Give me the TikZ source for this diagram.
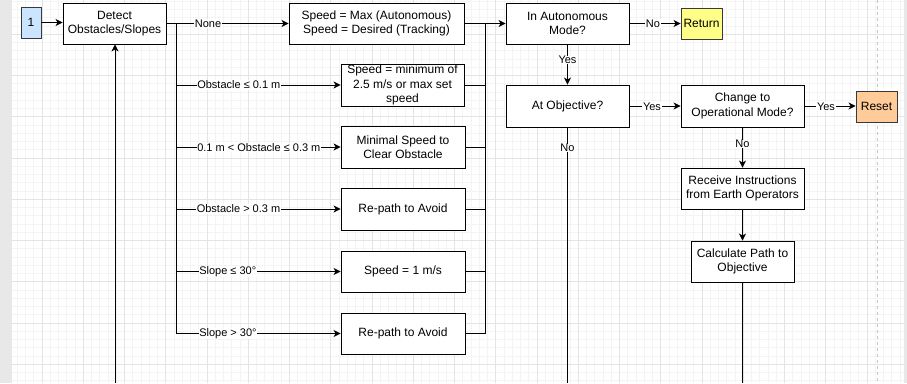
\documentclass[tikz,border=0pt]{standalone}
\usepackage{fontspec}
\setmainfont{Liberation Sans}
\usetikzlibrary{arrows.meta}
\definecolor{gridminor}{HTML}{F4F4F4}
\definecolor{gridmajor}{HTML}{E4E4E4}
\definecolor{strip}{HTML}{E8E8E8}
\definecolor{bluefill}{HTML}{CCE5FF}
\definecolor{yellowfill}{HTML}{FFFF88}
\definecolor{orangefill}{HTML}{FFCC99}
\definecolor{darkborder}{HTML}{36393D}
\tikzset{
  box/.style={draw=black, line width=0.9pt, fill=white, align=center, inner sep=0pt,
    font=\fontsize{12}{14.5}\selectfont},
  colbox/.style={box, draw=darkborder},
  lbl/.style={fill=white, inner sep=0.6pt, font=\fontsize{11}{13}\selectfont},
  conn/.style={line width=0.9pt, draw=black},
  arr/.style={conn, -{Stealth[length=7pt, width=7pt, inset=2pt]}}
}
\begin{document}
\begin{tikzpicture}[x=1pt, y=-1pt]
\useasboundingbox (0,0) rectangle (907,383);
% background
\fill[white] (0,0) rectangle (907,383);
\begin{scope}
\clip (12,0) rectangle (904,383);
\foreach \i in {0,...,108} {
  \draw[gridminor, line width=0.6pt] ({17.25+8.25*\i},0) -- ({17.25+8.25*\i},383);
}
\foreach \i in {0,...,46} {
  \draw[gridminor, line width=0.6pt] (0,{1.25+8.25*\i}) -- (907,{1.25+8.25*\i});
}
\foreach \k in {-1,...,21} {
  \draw[gridmajor, line width=0.8pt] ({42+41.25*\k},0) -- ({42+41.25*\k},383);
}
\foreach \k in {-1,...,9} {
  \draw[gridmajor, line width=0.8pt] (0,{34.25+41.25*\k}) -- (907,{34.25+41.25*\k});
}
\end{scope}
\fill[strip] (0,0) rectangle (12,383);
\fill[strip] (904,0) rectangle (907,383);
\draw[gray!45, line width=0.8pt, dash pattern=on 3pt off 3pt] (877,0) -- (877,383);

% nodes
\node[colbox, fill=bluefill, minimum width=20pt, minimum height=31pt] (one) at (31,22.5) {1};
\node[box, minimum width=103pt, minimum height=41pt] (detect) at (114.5,23.5) {Detect\\Obstacles/Slopes};
\node[box, minimum width=175pt, minimum height=41pt] (smax) at (376.5,23.5) {Speed = Max (Autonomous)\\Speed = Desired (Tracking)};
\node[box, minimum width=123pt, minimum height=42pt] (smin) at (402.5,85) {Speed = minimum of\\2.5 m/s or max set\\speed};
\node[box, minimum width=124pt, minimum height=42pt] (minsp) at (403,147) {Minimal Speed to\\Clear Obstacle};
\node[box, minimum width=124pt, minimum height=42pt] (repatha) at (403,209) {Re-path to Avoid};
\node[box, minimum width=124pt, minimum height=41pt] (speedone) at (403,271.5) {Speed = 1 m/s};
\node[box, minimum width=124pt, minimum height=41pt] (repathb) at (403,333.5) {Re-path to Avoid};
\node[box, minimum width=123pt, minimum height=41pt] (auto) at (567.5,23.5) {In Autonomous\\Mode?};
\node[colbox, fill=yellowfill, minimum width=41pt, minimum height=31pt] (ret) at (701.5,23.5) {Return};
\node[box, minimum width=123pt, minimum height=42pt] (atobj) at (567.5,106) {At Objective?};
\node[box, minimum width=123pt, minimum height=42pt] (change) at (742.5,106) {Change to\\Operational Mode?};
\node[colbox, fill=orangefill, minimum width=41pt, minimum height=31pt] (reset) at (876.5,106.5) {Reset};
\node[box, minimum width=123pt, minimum height=41pt] (receive) at (742.5,188.5) {Receive Instructions\\from Earth Operators};
\node[box, minimum width=103pt, minimum height=41pt] (calc) at (742.5,261.5) {Calculate Path to\\Objective};

\coordinate (lb) at (176,23.5);
\coordinate (rb) at (485,23.5);
\coordinate (bota) at (115,383);
\coordinate (botb) at (567.5,383);
\coordinate (botc) at (742.5,383);

% connectors
\draw[arr] (one.east) -- (one.east -| detect.west);
\draw[arr] (bota) -- (bota |- detect.south);
\draw[arr] (detect.east) -- (smax.west);
\draw[arr] (lb) |- (smin.west);
\draw[arr] (lb) |- (minsp.west);
\draw[arr] (lb) |- (repatha.west);
\draw[arr] (lb) |- (speedone.west);
\draw[arr] (lb) |- (repathb.west);
\draw[conn] (smin.east) -| (rb);
\draw[conn] (minsp.east) -| (rb);
\draw[conn] (repatha.east) -| (rb);
\draw[conn] (speedone.east) -| (rb);
\draw[conn] (repathb.east) -| (rb);
\draw[arr] (smax.east) -- (auto.west);
\draw[arr] (auto.east) -- (ret.west);
\draw[arr] (auto.south) -- (atobj.north);
\draw[arr] (atobj.east) -- (change.west);
\draw[arr] (change.east) -- (change.east -| reset.west);
\draw[conn] (atobj.south) -- (botb);
\draw[arr] (change.south) -- (receive.north);
\draw[arr] (receive.south) -- (calc.north);
\draw[conn] (calc.south) -- (botc);

% labels
\node[lbl] (lnone) at (208,23.5) {None};
\node[lbl, anchor=west] (lob1) at (196.5,85) {Obstacle ≤ 0.1 m};
\node[lbl, anchor=west] (lob2) at (196.5,147.5) {0.1 m < Obstacle ≤ 0.3 m};
\node[lbl, anchor=west] (lob3) at (196,209) {Obstacle > 0.3 m};
\node[lbl, anchor=west] (lsl1) at (198.5,271.5) {Slope ≤ 30°};
\node[lbl, anchor=west] (lsl2) at (198.5,333.5) {Slope > 30°};
\node[lbl] (lno1) at (653,23.5) {No};
\node[lbl] (lyes1) at (567.5,60) {Yes};
\node[lbl] (lyes2) at (652,106.5) {Yes};
\node[lbl] (lyes3) at (826,106.5) {Yes};
\node[lbl] (lno2) at (567.5,148) {No};
\node[lbl] (lno3) at (742.5,144) {No};
\end{tikzpicture}
\end{document}
